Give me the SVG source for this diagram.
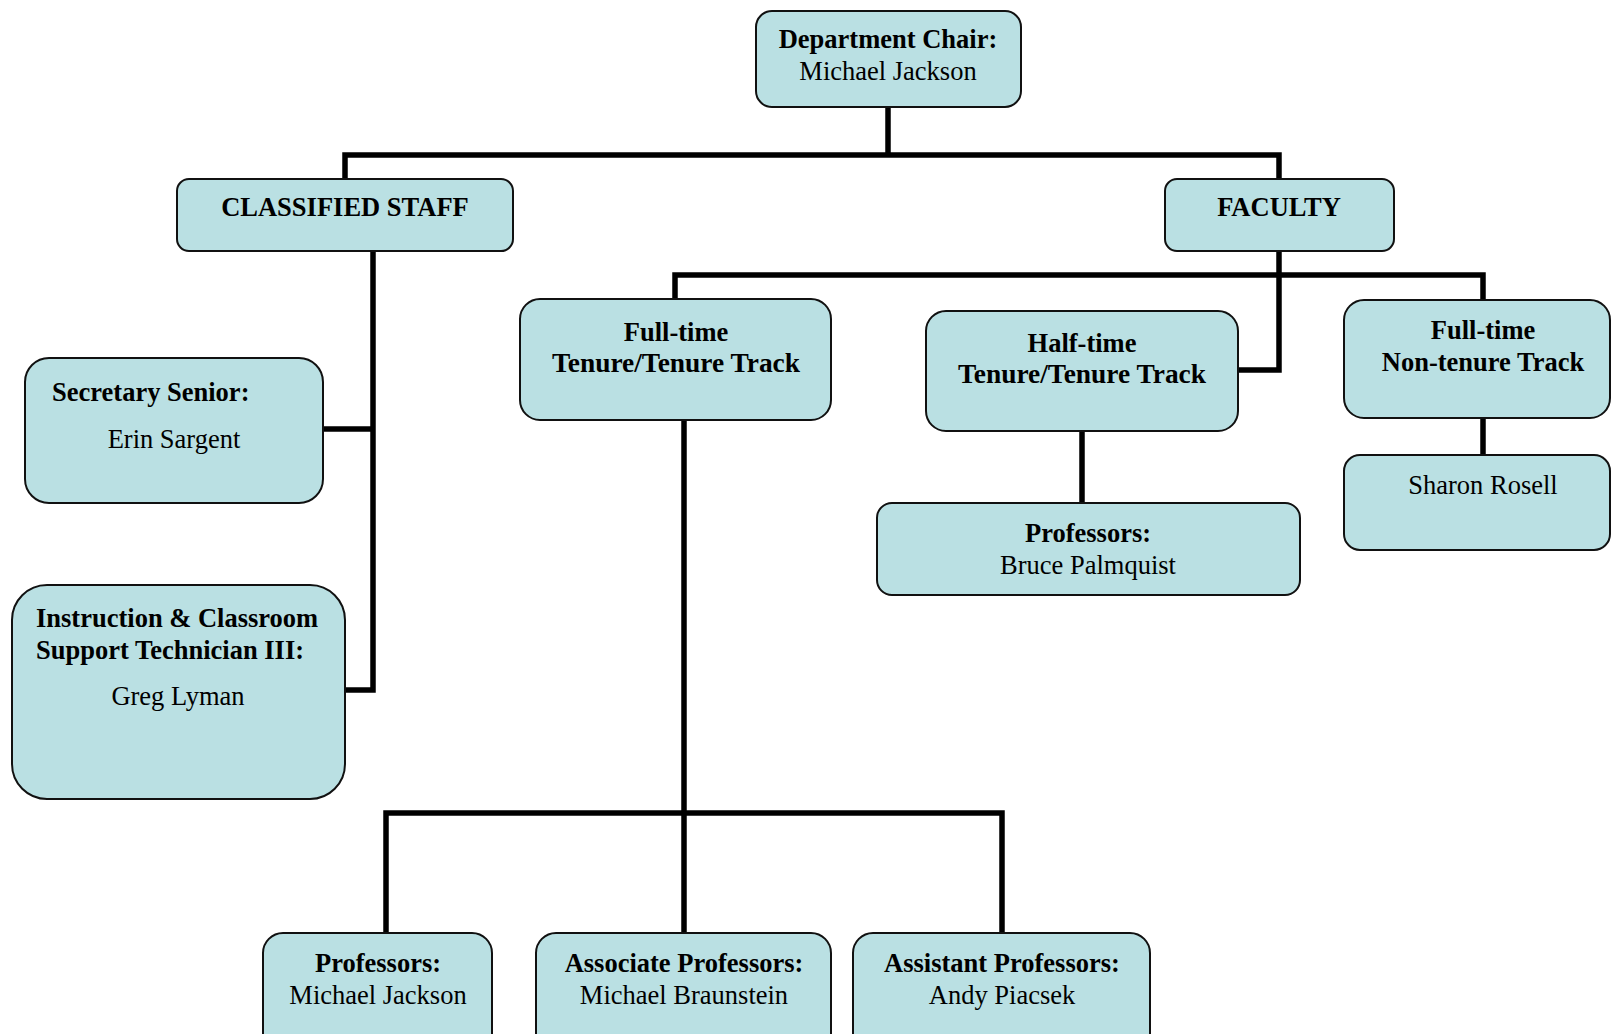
<svg xmlns="http://www.w3.org/2000/svg" width="1611" height="1034" viewBox="0 0 1611 1034">
<style>
.box{fill:#bae0e3;stroke:#111;stroke-width:2}
.t{font-family:"Liberation Serif","Times New Roman",serif;font-size:26.5px;fill:#000;text-anchor:middle}
.b{font-weight:bold}
.l{text-anchor:start}
.c{fill:none;stroke:#000;stroke-width:5.5;stroke-linejoin:miter;stroke-linecap:butt}
</style>
<rect width="1611" height="1034" fill="#fff"/>
<g id="connectors">
<path class="c" d="M888 107V155M345 179V155H1279V179"/>
<path class="c" d="M373 251V690H345M323 429H373"/>
<path class="c" d="M1279 251V370H1238M675 299V275H1483V300"/>
<path class="c" d="M684 420V813M386 933V813H1002V933M684 813V933"/>
<path class="c" d="M1082 431V503M1483 418V455"/>
</g>
<g id="chair"><rect class="box" x="756" y="11" width="265" height="96" rx="16"/><text class="t b" x="888" y="48">Department Chair:</text><text class="t" x="888" y="80">Michael Jackson</text></g>
<g id="classified"><rect class="box" x="177" y="179" width="336" height="72" rx="12"/><text class="t b" x="345" y="216">CLASSIFIED STAFF</text></g>
<g id="faculty"><rect class="box" x="1165" y="179" width="229" height="72" rx="12"/><text class="t b" x="1279" y="216">FACULTY</text></g>
<g id="secretary"><rect class="box" x="25" y="358" width="298" height="145" rx="24"/><text class="t b l" x="52" y="401">Secretary Senior:</text><text class="t" x="174" y="448">Erin Sargent</text></g>
<g id="technician"><rect class="box" x="12" y="585" width="333" height="214" rx="35"/><text class="t b l" x="36" y="627">Instruction &amp; Classroom</text><text class="t b l" x="36" y="659">Support Technician III:</text><text class="t" x="178" y="705">Greg Lyman</text></g>
<g id="fulltime-tenure"><rect class="box" x="520" y="299" width="311" height="121" rx="20"/><text class="t b" x="676" y="341">Full-time</text><text class="t b" x="676" y="372" textLength="248" lengthAdjust="spacingAndGlyphs">Tenure/Tenure Track</text></g>
<g id="halftime-tenure"><rect class="box" x="926" y="311" width="312" height="120" rx="20"/><text class="t b" x="1082" y="352">Half-time</text><text class="t b" x="1082" y="383" textLength="248" lengthAdjust="spacingAndGlyphs">Tenure/Tenure Track</text></g>
<g id="fulltime-nontenure"><rect class="box" x="1344" y="300" width="266" height="118" rx="20"/><text class="t b" x="1483" y="339">Full-time</text><text class="t b" x="1483" y="371">Non-tenure Track</text></g>
<g id="halftime-professors"><rect class="box" x="877" y="503" width="423" height="92" rx="15"/><text class="t b" x="1088" y="542">Professors:</text><text class="t" x="1088" y="574">Bruce Palmquist</text></g>
<g id="sharon"><rect class="box" x="1344" y="455" width="266" height="95" rx="16"/><text class="t" x="1483" y="494">Sharon Rosell</text></g>
<g id="professors"><rect class="box" x="263" y="933" width="229" height="130" rx="20"/><text class="t b" x="378" y="972">Professors:</text><text class="t" x="378" y="1004">Michael Jackson</text></g>
<g id="associate"><rect class="box" x="536" y="933" width="295" height="130" rx="20"/><text class="t b" x="684" y="972">Associate Professors:</text><text class="t" x="684" y="1004">Michael Braunstein</text></g>
<g id="assistant"><rect class="box" x="853" y="933" width="297" height="130" rx="20"/><text class="t b" x="1002" y="972">Assistant Professors:</text><text class="t" x="1002" y="1004">Andy Piacsek</text></g>
</svg>
